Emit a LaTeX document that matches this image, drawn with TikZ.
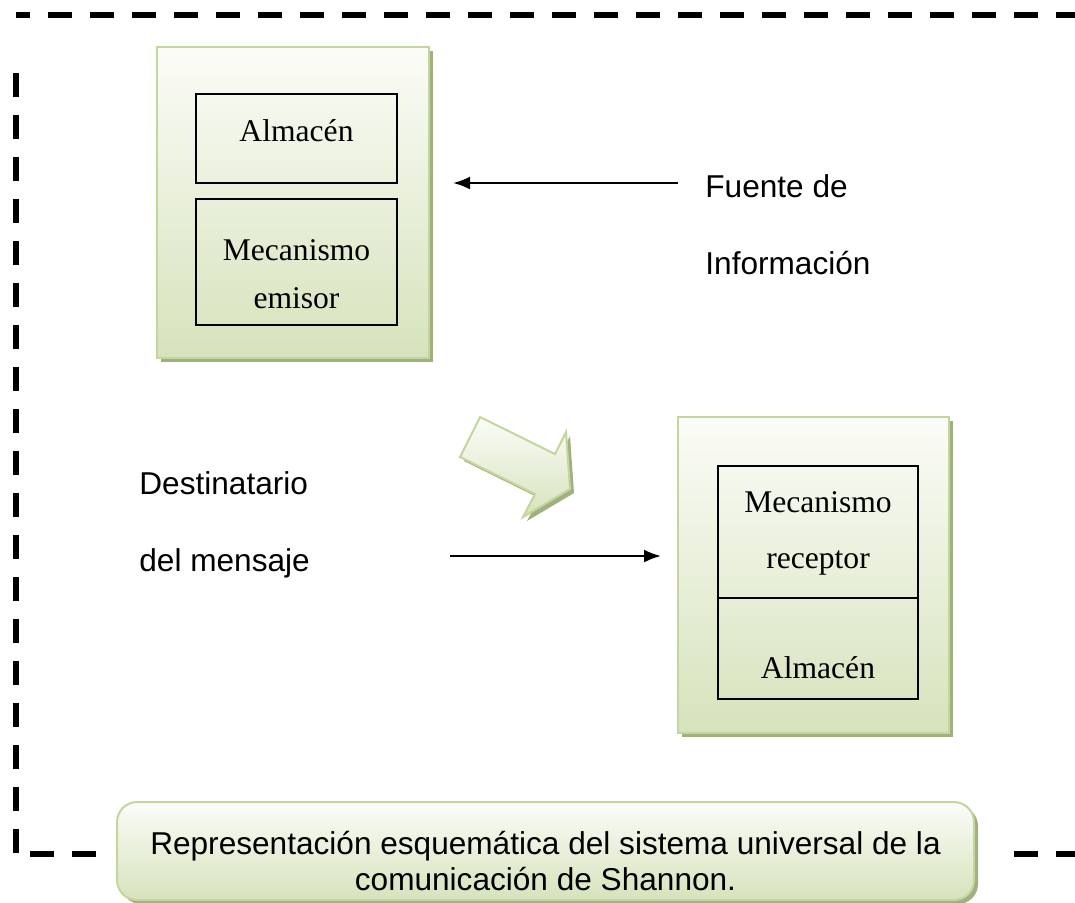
\documentclass[tikz,border=0pt]{standalone}
\usepackage{fontspec}
\setmainfont{Liberation Serif}
\setsansfont{Liberation Sans}
\usepackage{xcolor}
\usepackage{tikz}
\usetikzlibrary{arrows.meta,positioning,shadows}

\definecolor{verdeborde}{RGB}{195,214,155}
\definecolor{verdefondo}{RGB}{214,227,188}
\definecolor{verdeclaro}{RGB}{251,252,248}
\definecolor{verdesombra}{RGB}{160,176,128}

\begin{document}
\begin{tikzpicture}[x=0.5pt, y=-0.5pt, >={Latex[length=8.5pt,width=6.5pt]}]
\tikzstyle{caja}=[draw=verdeborde, line width=1pt, top color=verdeclaro, bottom color=verdefondo, drop shadow={shadow xshift=2pt, shadow yshift=-2pt, fill=verdesombra, opacity=1}]
\tikzstyle{blk}=[draw, line width=0.9pt, inner sep=0pt, outer sep=0pt]
\tikzstyle{serif}=[font=\fontsize{15.8}{19}\selectfont, inner sep=0pt, anchor=base]
\tikzstyle{sans}=[font=\sffamily\fontsize{15.8}{19}\selectfont, inner sep=0pt, anchor=base west]
\tikzstyle{marco}=[line width=2.75pt, dash pattern=on 12pt off 9pt]

\useasboundingbox (0,0) rectangle (1075,902);

% marco discontinuo
\draw[marco, dash phase=5pt] (16,15) -- (1075,15);
\draw[marco] (16,73) -- (16,853);
\draw[marco] (30,854) -- (110,854);
\draw[marco] (1014,854) -- (1075,854);

% emisor
\node[caja, minimum width=136pt, minimum height=155.5pt] (emisor) at (293,202.5) {};
\node[blk, minimum width=100.5pt, minimum height=44.5pt] (alm1) at (296.5,138.5) {};
\node[blk, minimum width=100.5pt, minimum height=63pt, below=8pt of alm1] (mec1) {};
\node[serif] (talm1) at (296.5,141) {Almacén};
\node[serif] (tmec1) at (296.5,260) {Mecanismo};
\node[serif] (temi) at ([yshift=-24pt]tmec1.base) {emisor};

% receptor
\node[caja, minimum width=135.5pt, minimum height=158pt] (receptor) at (813.5,575) {};
\node[blk, minimum width=100pt, minimum height=66pt] (mec2) at (818,532) {};
\node[blk, minimum width=100pt, minimum height=50.5pt, below=0pt of mec2] (alm2) {};
\node[serif] (tmec2) at (818,512) {Mecanismo};
\node[serif] (trec) at ([yshift=-28pt]tmec2.base) {receptor};
\node[serif] (talm2) at (818,678) {Almacén};

% etiquetas
\node[sans] (fuente) at (705,197) {Fuente de};
\node[sans] (info) at ([yshift=-38.5pt]fuente.base west) {Información};
\node[sans] (dest) at (139,494) {Destinatario};
\node[sans] (msj) at ([yshift=-38.5pt]dest.base west) {del mensaje};

\coordinate (f1) at (678,183);
\coordinate (f2) at (453,183);
\coordinate (d1) at (450,556);
\coordinate (d2) at (661,556);
\draw[->, line width=1.1pt] (f1) -- (f2);
\draw[->, line width=1.1pt] (d1) -- (d2);

% flecha de bloque
\path[caja] (480,417) -- (555,454) -- (566,432) -- (570,489) -- (523,517) -- (535,494) -- (460,457) -- cycle;

% pie
\node[caja, rounded corners=10pt, minimum width=428.5pt, minimum height=49pt] (pie) at (545.5,851) {};
\node[serif, font=\sffamily\fontsize{15.8}{19}\selectfont] (pie1) at (545.5,854) {Representación esquemática del sistema universal de la};
\node[serif, font=\sffamily\fontsize{15.8}{19}\selectfont] (pie2) at ([yshift=-18pt]pie1.base) {comunicación de Shannon.};
\end{tikzpicture}
\end{document}
